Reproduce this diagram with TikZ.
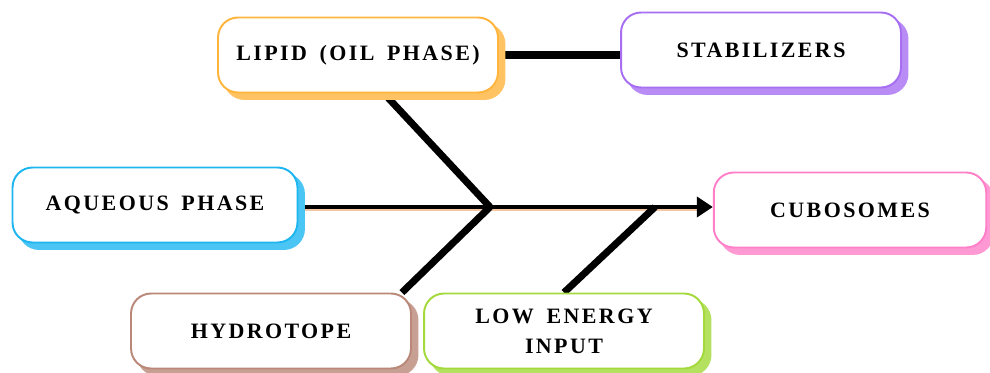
\documentclass[tikz,border=0pt]{standalone}
\usepackage{fontspec}
\newfontfamily\boxfont{Liberation Serif}[LetterSpace=11,WordSpace=1.6]
\usetikzlibrary{arrows.meta,backgrounds,shadows,calc}
\definecolor{lipidcol}{HTML}{FFB43C}
\definecolor{stabcol}{HTML}{A76EF2}
\definecolor{aqcol}{HTML}{1EB6F0}
\definecolor{cubocol}{HTML}{FF80C9}
\definecolor{hydrocol}{HTML}{B98878}
\definecolor{lowcol}{HTML}{A3D93A}
\definecolor{peach}{HTML}{F3C7A4}
\begin{document}
\begin{tikzpicture}[x=0.02cm,y=-0.02cm,
    box/.style={draw=#1, fill=white, line width=1.1pt, rounded corners=0.4cm,
      minimum width=5.6cm, minimum height=1.5cm, align=center,
      font=\boxfont\bfseries\fontsize{12.5}{17}\selectfont,
      copy shadow={shadow xshift=0.13cm, shadow yshift=-0.13cm,
        fill=#1!80, draw=#1!80}},
    bone/.style={line width=4pt}]
  \useasboundingbox (0,0) rectangle (990,372);
  % boxes
  \node[box=lipidcol] (lipid) at (358,55) {LIPID (OIL PHASE)};
  \node[box=stabcol] (stab) at (761,50) {STABILIZERS};
  \node[box=aqcol, minimum width=5.7cm] (aq) at (155,205) {AQUEOUS PHASE};
  \node[box=cubocol, minimum width=5.45cm] (cubo) at (850,210) {CUBOSOMES};
  \node[box=hydrocol] (hydro) at (271,331) {HYDROTOPE};
  \node[box=lowcol] (low) at (564,331) {LOW ENERGY\\INPUT};
  \coordinate (j) at (490,207);
  \coordinate (k) at (655,207);
  % connectors
  \begin{scope}[on background layer]
    \draw[line width=3pt, peach] ($(aq.east |- j)+(0,1.5)$) -- ($(cubo.west |- j)+(-14,1.5)$);
    \draw[line width=2.8pt, -{Triangle[length=0.32cm, width=0.4cm]}] (aq.east |- j) -- (cubo.west |- j);
    \draw[bone] (j) -- ($(lipid.south)+(26,0)$);
    \draw[bone] (j) -- ($(hydro.north east)+(-10,0)$);
    \draw[bone] (k) -- (low.north);
    \draw[bone] (lipid.east) -- (lipid.east -| stab.west);
  \end{scope}
\end{tikzpicture}
\end{document}
